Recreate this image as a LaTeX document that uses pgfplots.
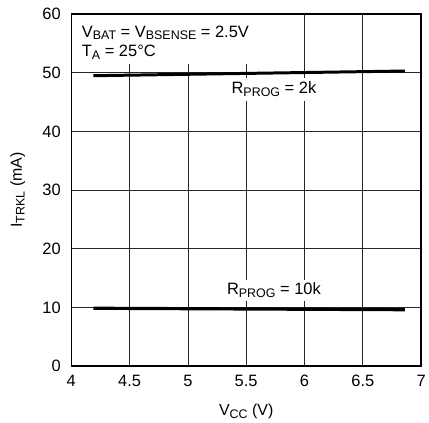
\documentclass[border=0pt]{standalone}
\usepackage{fontspec}
\setmainfont{Liberation Sans}
\usepackage{pgfplots}
\pgfplotsset{compat=1.18}
\newcommand\sub[1]{\raisebox{-0.17em}{\fontsize{12.5}{12.5}\selectfont #1}}
\begin{document}
\begin{tikzpicture}
\begin{axis}[
  scale only axis,
  width=350bp, height=352bp,
  xmin=4, xmax=7, ymin=0, ymax=60,
  xtick={4,4.5,...,7}, ytick={0,10,...,60},
  grid=major,
  major grid style={black!85, line width=0.7pt},
  axis line style={line width=1.4pt},
  tick style={draw=none},
  /pgf/number format/assume math mode=true,
  ticklabel style={font=\fontsize{16.5}{18}\selectfont},
  xticklabel style={yshift=-6pt},
  yticklabel style={xshift=-7pt},
  label style={font=\fontsize{16}{18}\selectfont},
  xlabel={V\sub{CC} (V)},
  ylabel={I\sub{TRKL} (mA)},
  xlabel style={yshift=-10.5pt},
  ylabel style={yshift=10.5pt},
  clip=false,
]
\addplot[black, line width=3pt] coordinates {(4.19,49.5) (6.86,50.3)};
\addplot[black, line width=3.2pt] coordinates {(4.19,9.85) (6.86,9.6)};
\fill[white] (axis cs:4.01,51.5) rectangle (axis cs:5.62,59.88);
\node[anchor=base west, inner sep=0pt, font=\fontsize{16.5}{18}\selectfont]
  at (axis cs:4.09,56.1) {V\sub{BAT} = V\sub{BSENSE} = 2.5V};
\node[anchor=base west, inner sep=0pt, font=\fontsize{16.5}{18}\selectfont]
  at (axis cs:4.09,52.7) {T\sub{A} = 25\textdegree C};
\node[anchor=base, fill=white, inner xsep=2pt, inner ysep=4pt, font=\fontsize{16.5}{18}\selectfont]
  at (axis cs:5.738,46.4) {R\sub{PROG} = 2k};
\node[anchor=base, fill=white, inner xsep=2pt, inner ysep=3pt, font=\fontsize{16.5}{18}\selectfont]
  at (axis cs:5.738,12.15) {R\sub{PROG} = 10k};
\end{axis}
\path ([xshift=-7bp,yshift=5bp]current bounding box.north west);
\end{tikzpicture}
\end{document}
